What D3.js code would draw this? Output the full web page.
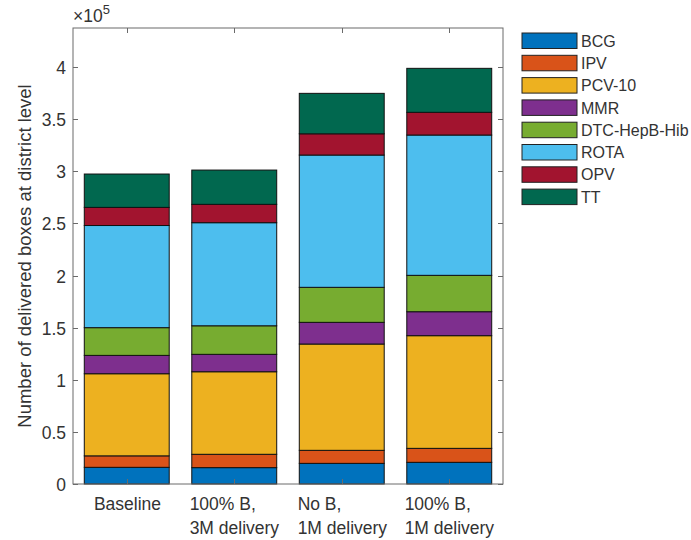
<!DOCTYPE html>
<html lang="en">
<head>
<meta charset="UTF-8" />
<title>Delivered boxes</title>
<script src="https://d3js.org/d3.v7.min.js"></script>
<style>
  body { margin: 0; background: #fff; }
  text { font-family: "Liberation Sans", Arial, Helvetica, sans-serif; fill: #333; }
</style>
</head>
<body>
<div id="chart"></div>
<script>
// scenarios on the x axis
var scenarios = ["Baseline", "100% B,\n3M delivery", "No B,\n1M delivery", "100% B,\n1M delivery"];

// vaccines, bottom to top of each stack
var vaccines = ["BCG", "IPV", "PCV-10", "MMR", "DTC-HepB-Hib", "ROTA", "OPV", "TT"];
var colors = ["#0072BD", "#D95319", "#EDB120", "#7E2F8E", "#77AC30", "#4DBEEE", "#A2142F", "#01684F"];

// boxes per vaccine, one value per scenario
var bcg   = [16000, 15700, 19800, 20800];
var ipv   = [11000, 12800, 12500, 13400];
var pcv   = [78800, 79200, 102000, 108100];
var mmr   = [17600, 16700, 20800, 23000];
var dtc   = [26600, 27400, 33600, 34900];
var rota  = [98000, 98900, 126900, 134600];
var opv   = [17400, 17600, 20400, 21800];
var tt    = [32000, 32900, 38800, 42200];

var yTicks = [0, 0.5, 1, 1.5, 2, 2.5, 3, 3.5, 4];

var series = [bcg, ipv, pcv, mmr, dtc, rota, opv, tt];

// build rows for d3.stack
var rows = scenarios.map(function(s, i) {
  var r = { scenario: s };
  vaccines.forEach(function(v, j) { r[v] = series[j][i]; });
  return r;
});

var width = 691, height = 540;
var margin = { left: 73, right: 188, top: 28, bottom: 56 };
var w = width - margin.left - margin.right;
var h = height - margin.top - margin.bottom;

var svg = d3.select("#chart").append("svg")
  .attr("width", width)
  .attr("height", height);

var g = svg.append("g")
  .attr("transform", "translate(" + margin.left + "," + margin.top + ")");

var x = d3.scaleBand().domain(scenarios).range([0, w]).paddingInner(0.21).paddingOuter(0.105);
var y = d3.scaleLinear().domain([0, 437500]).range([h, 0]);

var stack = d3.stack().keys(vaccines)(rows);

g.selectAll("g.layer")
  .data(stack)
  .enter().append("g")
    .attr("class", "layer")
    .attr("fill", function(d, i) { return colors[i]; })
  .selectAll("rect")
  .data(function(d) { return d; })
  .enter().append("rect")
    .attr("x", function(d) { return x(d.data.scenario); })
    .attr("width", x.bandwidth())
    .attr("y", function(d) { return y(d[1]); })
    .attr("height", function(d) { return y(d[0]) - y(d[1]); })
    .attr("stroke", "#111")
    .attr("stroke-width", 1);

// axes box
var axisColor = "#6a6a6a";
g.append("rect")
  .attr("width", w).attr("height", h)
  .attr("fill", "none").attr("stroke", axisColor).attr("stroke-width", 1);

// y ticks, left and right, pointing in
var tickLen = 5;
yTicks.forEach(function(t) {
  var yy = Math.round(y(t * 1e5)) + 0.5;
  g.append("line").attr("x1", 0).attr("x2", tickLen).attr("y1", yy).attr("y2", yy).attr("stroke", axisColor);
  g.append("line").attr("x1", w - tickLen).attr("x2", w).attr("y1", yy).attr("y2", yy).attr("stroke", axisColor);
  g.append("text")
    .attr("x", -7).attr("y", yy)
    .attr("dy", "0.35em")
    .attr("text-anchor", "end")
    .style("font-size", "17.5px")
    .text(t);
});

// x ticks top and bottom
scenarios.forEach(function(s) {
  var xx = Math.round(x(s) + x.bandwidth() / 2) + 0.5;
  g.append("line").attr("x1", xx).attr("x2", xx).attr("y1", h).attr("y2", h - tickLen).attr("stroke", axisColor);
  g.append("line").attr("x1", xx).attr("x2", xx).attr("y1", 0).attr("y2", tickLen).attr("stroke", axisColor);

  // multi-line label: block centred, lines left aligned
  var lines = s.split("\n");
  var t = g.append("text").style("font-size", "17.5px");
  lines.forEach(function(l, k) {
    t.append("tspan").attr("x", 0).attr("y", h + 26 + k * 24).text(l);
  });
  var bw = t.node().getBBox().width;
  t.attr("transform", "translate(" + (xx - bw / 2) + ",0)");
});

// exponent label
var ex = svg.append("text")
  .attr("x", margin.left)
  .attr("y", 22)
  .style("font-size", "17.5px");
ex.append("tspan").text("\u00d710");
ex.append("tspan").attr("dy", -8).style("font-size", "13px").text("5");

// y axis title
svg.append("text")
  .attr("transform", "translate(31," + (margin.top + h / 2) + ") rotate(-90)")
  .attr("text-anchor", "middle")
  .style("font-size", "18.5px")
  .text("Number of delivered boxes at district level");

// legend
var legend = svg.append("g").attr("transform", "translate(522,33)");
vaccines.forEach(function(v, i) {
  var row = legend.append("g").attr("transform", "translate(0," + (i * 22.3) + ")");
  row.append("rect")
    .attr("width", 55).attr("height", 15.5)
    .attr("fill", colors[i])
    .attr("stroke", "#222").attr("stroke-width", 1);
  row.append("text")
    .attr("x", 59).attr("y", 8)
    .attr("dy", "0.35em")
    .style("font-size", "16px")
    .text(v);
});
</script>
</body>
</html>
